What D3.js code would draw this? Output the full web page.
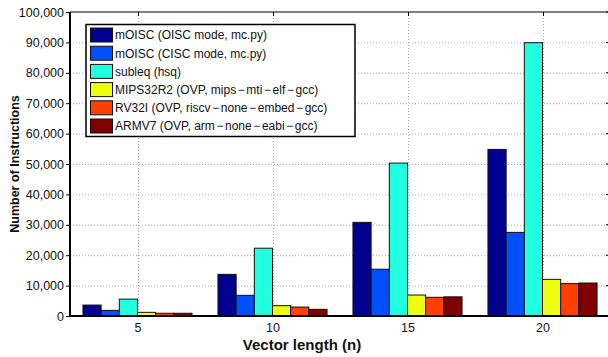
<!DOCTYPE html>
<html><head><meta charset="utf-8">
<script src="https://cdn.jsdelivr.net/npm/d3@7"></script>
<style>body{margin:0;background:#fff}svg{display:block}text{font-family:"Liberation Sans",Arial,sans-serif}</style>
</head><body><svg id="c" width="608" height="357"></svg>
<script>
const categories = [5, 10, 15, 20];
const seriesNames = [
  "mOISC (OISC mode, mc.py)",
  "mOISC (CISC mode, mc.py)",
  "subleq (hsq)",
  "MIPS32R2 (OVP, mips\u2212mti\u2212elf\u2212gcc)",
  "RV32I (OVP, riscv\u2212none\u2212embed\u2212gcc)",
  "ARMV7 (OVP, arm\u2212none\u2212eabi\u2212gcc)"
];
const seriesColors = ["#00008f", "#0050ff", "#20ffdf", "#efff10", "#ff4000", "#800000"];
const mOISC_OISC = [3600, 13700, 30800, 54800];
const mOISC_CISC = [1850, 6800, 15400, 27500];
const subleq = [5550, 22300, 50300, 89900];
const mips = [1200, 3400, 6900, 12050];
const rv32i = [900, 2950, 6150, 10650];
const armv7 = [900, 2200, 6300, 10850];
const seriesValues = [mOISC_OISC, mOISC_CISC, subleq, mips, rv32i, armv7];
const yTicks = [0, 10000, 20000, 30000, 40000, 50000, 60000, 70000, 80000, 90000, 100000];

const svg = d3.select("#c");
const L = 70, R = 610, T = 12, B = 316;
const x = d3.scaleLinear().domain([2.5, 22.5]).range([L, R]);
const y = d3.scaleLinear().domain([0, 100000]).range([B, T]);
const fmt = d3.format(",");

// grid
const g = svg.append("g");
g.selectAll(".gy").data(yTicks.slice(1, -1)).join("line")
  .attr("x1", L).attr("x2", R).attr("y1", d => y(d) + 0.5).attr("y2", d => y(d) + 0.5)
  .attr("stroke", "#aaa").attr("stroke-width", 1).attr("stroke-dasharray", "1,2");
g.selectAll(".gx").data(categories).join("line")
  .attr("x1", d => Math.round(x(d)) + 0.5).attr("x2", d => Math.round(x(d)) + 0.5).attr("y1", T).attr("y2", B)
  .attr("stroke", "#aaa").attr("stroke-width", 1).attr("stroke-dasharray", "1,2");

// bars
const groupW = 4.04; // in data units
const bw = groupW / seriesNames.length;
seriesValues.forEach((vals, si) => {
  svg.append("g").selectAll("rect").data(vals).join("rect")
    .attr("x", (d, i) => x(categories[i] - groupW / 2 + si * bw))
    .attr("width", x(bw) - x(0))
    .attr("y", d => y(d))
    .attr("height", d => B - y(d))
    .attr("fill", seriesColors[si])
    .attr("stroke", "#111").attr("stroke-width", 1);
});

// top border
svg.append("line").attr("x1", L).attr("x2", R).attr("y1", T).attr("y2", T).attr("stroke", "#000").attr("stroke-width", 1);

// axes
const yAxis = d3.axisLeft(y).tickValues(yTicks).tickFormat(fmt).tickSize(4).tickPadding(2);
const ya = svg.append("g").attr("transform", `translate(${L},0)`).call(yAxis);
ya.select(".domain").remove();
ya.selectAll("text").attr("font-size", 12.5).attr("fill", "#111");
ya.selectAll("line").attr("stroke", "#000");
// right inner ticks
svg.append("g").selectAll("line").data(yTicks).join("line")
  .attr("x1", R - 4).attr("x2", R).attr("y1", d => y(d)).attr("y2", d => y(d)).attr("stroke", "#000");
// top inner ticks
svg.append("g").selectAll("line").data(categories).join("line")
  .attr("x1", d => Math.round(x(d)) + 0.5).attr("x2", d => Math.round(x(d)) + 0.5).attr("y1", T).attr("y2", T + 4).attr("stroke", "#000");

const xAxis = d3.axisBottom(x).tickValues(categories).tickSize(0).tickPadding(7);
const xa = svg.append("g").attr("transform", `translate(0,${B})`).call(xAxis);
xa.select(".domain").remove();
xa.selectAll("text").attr("font-size", 12.5).attr("fill", "#111");

svg.append("line").attr("x1", L).attr("x2", L).attr("y1", T).attr("y2", B + 1).attr("stroke", "#000").attr("stroke-width", 2);
svg.append("line").attr("x1", L - 1).attr("x2", R).attr("y1", B).attr("y2", B).attr("stroke", "#000").attr("stroke-width", 2);

// titles
svg.append("text").attr("x", 302).attr("y", 350).attr("text-anchor", "middle")
  .attr("font-size", 15).attr("font-weight", "bold").attr("fill", "#111").text("Vector length (n)");
svg.append("text").attr("transform", `translate(19,${(T + B) / 2}) rotate(-90)`).attr("text-anchor", "middle")
  .attr("font-size", 12.5).attr("font-weight", "bold").attr("fill", "#111").text("Number of Instructions");

// legend
const lg = svg.append("g");
lg.append("rect").attr("x", 86).attr("y", 24.5).attr("width", 269).attr("height", 112)
  .attr("fill", "#fff").attr("stroke", "#000").attr("stroke-width", 1.5);
seriesNames.forEach((n, i) => {
  const cy = 35 + i * 18.2;
  lg.append("rect").attr("x", 90.5).attr("y", cy - 7).attr("width", 22).attr("height", 14)
    .attr("fill", seriesColors[i]).attr("stroke", "#111").attr("stroke-width", 1);
  const t = lg.append("text").attr("x", 115).attr("y", cy + 4.3).attr("font-size", 12).attr("fill", "#111");
  const parts = n.split("\u2212");
  parts.forEach((p, k) => {
    if (k > 0) t.append("tspan").attr("dx", 1.6).text("\u2212");
    t.append("tspan").attr("dx", k > 0 ? 1.6 : 0).text(p);
  });
});
</script></body></html>
